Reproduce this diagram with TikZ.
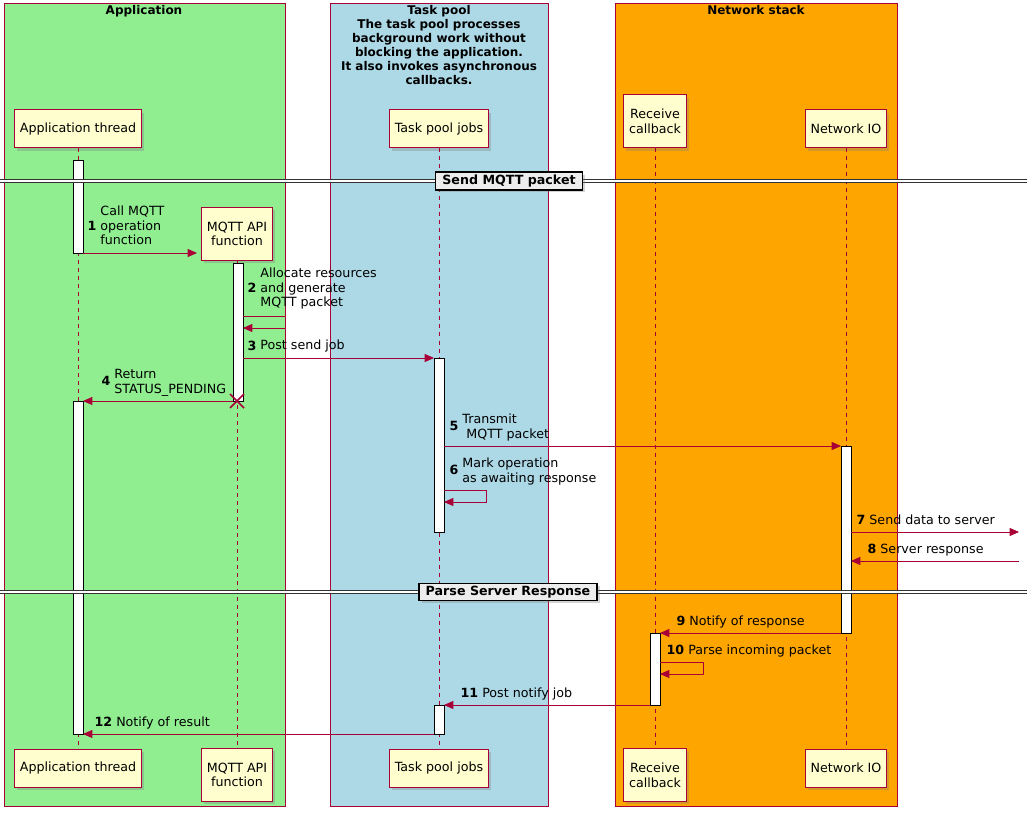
\documentclass[tikz,border=0pt]{standalone}
\usepackage{fontspec}
\setmainfont{DejaVu Sans}
\usetikzlibrary{arrows.meta,shadows}

\definecolor{umlred}{HTML}{A80036}
\definecolor{umlnote}{HTML}{FEFECE}
\definecolor{appgreen}{HTML}{90EE90}
\definecolor{poolblue}{HTML}{ADD8E6}
\definecolor{netorange}{HTML}{FFA500}

\tikzset{
    group/.style={draw=umlred, line width=0.75pt},
    grouptitle/.style={font=\bfseries\fontsize{9}{10.5}\selectfont, align=center, anchor=north, inner sep=0pt},
    participant/.style={draw=umlred, fill=umlnote, line width=0.75pt, font=\fontsize{9.5}{11}\selectfont,
        align=center, inner xsep=4pt, minimum height=28.5pt, drop shadow={opacity=0.35, shadow xshift=2pt, shadow yshift=-2pt}},
    lifeline/.style={draw=umlred, dashed, dash pattern=on 3pt off 3pt, line width=0.5pt},
    activation/.style={draw=black, fill=white, line width=0.6pt},
    msg/.style={draw=umlred, line width=0.6pt, -{Triangle[length=7pt,width=6pt]}},
    msgtext/.style={font=\fontsize{9.5}{11}\selectfont, inner sep=1pt, anchor=south west},
    divider/.style={draw=black!80, double, double distance=2pt, line width=0.6pt},
    dividertext/.style={draw=black, fill=black!7, line width=1.2pt, font=\bfseries\fontsize{9.5}{11}\selectfont,
        inner xsep=5pt, inner ysep=2pt, drop shadow={opacity=0.35, shadow xshift=2pt, shadow yshift=-2pt}}
}
\newcommand{\msgno}[2]{\textbf{#1}~\begin{tabular}[c]{@{}l@{}}#2\end{tabular}}

\begin{document}
\begin{tikzpicture}[x=0.75pt, y=-0.75pt]
\useasboundingbox (0,0) rectangle (1027,816);

% groups
    \draw[group, fill=appgreen] (4,4) rectangle (285,806);
    \draw[group, fill=poolblue] (330,4) rectangle (548,806);
    \draw[group, fill=netorange] (615,4) rectangle (897,806);
    \node[grouptitle] (tapp) at (144,5) {Application};
    \node[grouptitle] (tpool) at (439,5) {Task pool\\The task pool processes\\background work without\\blocking the application.\\It also invokes asynchronous\\callbacks.};
    \node[grouptitle] (tnet) at (756,5) {Network stack};

% participants
    \node[participant] (app) at (78,129) {Application thread};
    \node[participant] (pool) at (439,129) {Task pool jobs};
    \node[participant, minimum height=39.75pt] (recv) at (655,121.5) {Receive\\callback};
    \node[participant] (net) at (846,129) {Network IO};
    \node[participant, minimum height=39.75pt] (api) at (237,234) {MQTT API\\function};
% footers
    \node[participant] (appf) at (78,768) {Application thread};
    \node[participant, minimum height=39.75pt] (apif) at (237,775) {MQTT API\\function};
    \node[participant] (poolf) at (439,768) {Task pool jobs};
    \node[participant, minimum height=39.75pt] (recvf) at (655,775) {Receive\\callback};
    \node[participant] (netf) at (846,768) {Network IO};

% lifelines
    \draw[lifeline] (app) -- (appf);
    \draw[lifeline] (api) -- (apif);
    \draw[lifeline] (pool) -- (poolf);
    \draw[lifeline] (recv) -- (recvf);
    \draw[lifeline] (net) -- (netf);

% activations
    \draw[activation] (73,160) rectangle (83,253);
    \draw[activation] (73,401) rectangle (83,734);
    \draw[activation] (233,263) rectangle (243,401);
    \draw[activation] (434,358) rectangle (444,532);
    \draw[activation] (434,705) rectangle (444,734);
    \draw[activation] (841,446) rectangle (851,633);
    \draw[activation] (650,633) rectangle (660,705);
% destroy
    \draw[umlred, line width=1.3pt] (230,394) -- (244,408) (244,394) -- (230,408);

% dividers
    \draw[divider] (0,181) -- (1027,181);
    \node[dividertext] (dsend) at (509,181) {Send MQTT packet};
    \draw[divider] (0,592) -- (1027,592);
    \node[dividertext] (dparse) at (508,592) {Parse Server Response};

% message end points
    \coordinate (m1a) at (83,253);   \coordinate (m1b) at (197,253);
    \coordinate (m3a) at (243,358);  \coordinate (m3b) at (434,358);
    \coordinate (m4a) at (233,401);  \coordinate (m4b) at (83,401);
    \coordinate (m5a) at (444,446);  \coordinate (m5b) at (841,446);
    \coordinate (m7a) at (851,532);  \coordinate (m7b) at (1019,532);
    \coordinate (m8a) at (1019,561); \coordinate (m8b) at (851,561);
    \coordinate (m9a) at (841,633);  \coordinate (m9b) at (660,633);
    \coordinate (m11a) at (650,705); \coordinate (m11b) at (444,705);
    \coordinate (m12a) at (434,734); \coordinate (m12b) at (83,734);

% messages
    \draw[msg] (m1a) -- (m1b);
    \node[msgtext] (l1) at (86,251) {\msgno{1}{Call MQTT\\operation\\function}};
    \draw[msg] (243,316) -- (285,316) -- (285,328) -- (243,328);
    \node[msgtext] (l2) at (246,313) {\msgno{2}{Allocate resources\\and generate\\MQTT packet}};
    \draw[msg] (m3a) -- (m3b);
    \node[msgtext] (l3) at (246,356) {\msgno{3}{Post send job}};
    \draw[msg] (m4a) -- (m4b);
    \node[msgtext] (l4) at (100,399) {\msgno{4}{Return\\STATUS\_PENDING}};
    \draw[msg] (m5a) -- (m5b);
    \node[msgtext] (l5) at (448,444) {\msgno{5}{Transmit\\\ MQTT packet}};
    \draw[msg] (444,490) -- (486,490) -- (486,502) -- (444,502);
    \node[msgtext] (l6) at (448,488) {\msgno{6}{Mark operation\\as awaiting response}};
    \draw[msg] (m7a) -- (m7b);
    \node[msgtext] (l7) at (855,530) {\msgno{7}{Send data to server}};
    \draw[msg] (m8a) -- (m8b);
    \node[msgtext] (l8) at (866,559) {\msgno{8}{Server response}};
    \draw[msg] (m9a) -- (m9b);
    \node[msgtext] (l9) at (675,631) {\msgno{9}{Notify of response}};
    \draw[msg] (660,662) -- (703,662) -- (703,674) -- (660,674);
    \node[msgtext] (l10) at (665,660) {\msgno{10}{Parse incoming packet}};
    \draw[msg] (m11a) -- (m11b);
    \node[msgtext] (l11) at (459,703) {\msgno{11}{Post notify job}};
    \draw[msg] (m12a) -- (m12b);
    \node[msgtext] (l12) at (93,732) {\msgno{12}{Notify of result}};

\end{tikzpicture}
\end{document}
